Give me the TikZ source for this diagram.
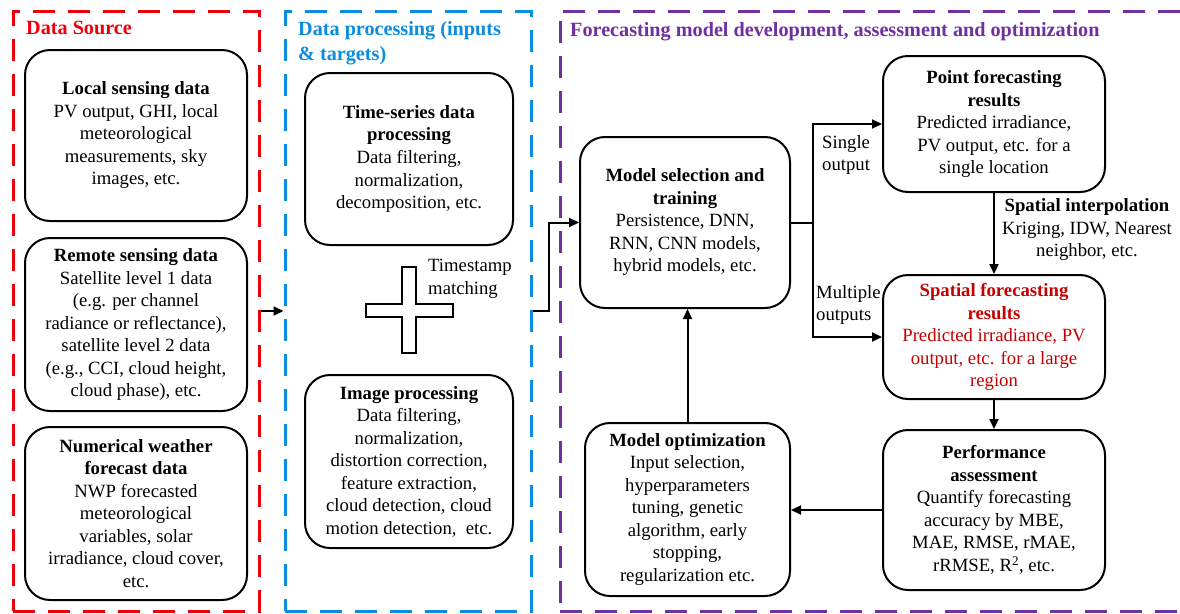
\documentclass[tikz,border=0pt]{standalone}
\usepackage{fontspec}
\setmainfont{Liberation Serif}
\usetikzlibrary{arrows.meta,calc}
\definecolor{srcred}{RGB}{236,0,10}
\definecolor{procblue}{RGB}{10,140,225}
\definecolor{fmpurple}{RGB}{112,48,160}
\definecolor{darkred}{RGB}{196,0,0}
\tikzset{
  box/.style={draw, line width=2pt, rounded corners=25pt, align=center, inner sep=0pt,
    font=\fontsize{18.7}{22.5}\selectfont},
  frame/.style={line width=3pt, dash pattern=on 22pt off 13pt, inner sep=0pt},
  ttl/.style={font=\fontsize{20.2}{25}\selectfont\bfseries, inner sep=0pt, align=left},
  lbl/.style={font=\fontsize{18.7}{22.5}\selectfont, inner sep=0pt},
  conn/.style={line width=2pt, -{Triangle[length=10pt,width=9pt]}},
  plainconn/.style={line width=2pt}
}
\begin{document}
\begin{tikzpicture}[x=1pt,y=-1pt]
\clip (0,0) rectangle (1180,613);
\fill[white] (0,0) rectangle (1180,613);
% frames
\node[frame, draw=srcred, minimum width=246pt, minimum height=600pt] (src) at (136,311) {};
\node[frame, draw=procblue, minimum width=246pt, minimum height=600pt] (proc) at (408,311) {};
\node[frame, draw=fmpurple, minimum width=640pt, minimum height=600pt] (fm) at (880,311) {};
% titles
\node[ttl, text=srcred, anchor=base west] (tsrc) at (26,34) {Data Source};
\node[ttl, text=procblue, anchor=base west] (tproc) at (298,60) {Data processing (inputs\\\& targets)};
\node[ttl, text=fmpurple, anchor=base west] (tfm) at (570,36) {Forecasting model development, assessment and optimization};
% data source
\node[box, minimum width=222pt, minimum height=171pt] (local) at (136,135.5)
  {\textbf{Local sensing data}\\PV output, GHI, local\\meteorological\\measurements, sky\\images, etc.};
\node[box, minimum width=222pt, minimum height=173pt] (remote) at (136,324.5)
  {\textbf{Remote sensing data}\\Satellite level 1 data\\(e.g. per channel\\radiance or reflectance),\\satellite level 2 data\\(e.g., CCI, cloud height,\\cloud phase), etc.};
\node[box, minimum width=222pt, minimum height=173pt] (nwp) at (136,513.5)
  {\textbf{Numerical weather}\\\textbf{forecast data}\\NWP forecasted\\meteorological\\variables, solar\\irradiance, cloud cover,\\etc.};
% processing
\node[box, minimum width=208pt, minimum height=172pt] (ts) at (409,159)
  {\textbf{Time-series data}\\\textbf{processing}\\Data filtering,\\normalization,\\decomposition, etc.};
\node[box, minimum width=208pt, minimum height=173pt] (img) at (409,461.5)
  {\textbf{Image processing}\\Data filtering,\\normalization,\\distortion correction,\\feature extraction,\\cloud detection, cloud\\motion detection,\ \ etc.};
% cross
\draw[line width=1.8pt, fill=white] (402,267) -- (416,267) -- (416,304) -- (453,304) -- (453,317) -- (416,317) -- (416,353) -- (402,353) -- (402,317) -- (366,317) -- (366,304) -- (402,304) -- cycle;
\node[lbl, anchor=west, align=left] (tsm) at (428,279) {Timestamp\\matching};
% model
\node[box, minimum width=210pt, minimum height=171pt] (msel) at (685,222.5)
  {\textbf{Model selection and}\\\textbf{training}\\Persistence, DNN,\\RNN, CNN models,\\hybrid models, etc.};
\node[box, minimum width=222pt, minimum height=136pt] (point) at (994,124)
  {\textbf{Point forecasting}\\\textbf{results}\\Predicted irradiance,\\PV output, etc. for a\\single location};
\node[box, minimum width=222pt, minimum height=124pt, text=darkred] (spatial) at (994,337)
  {\textbf{Spatial forecasting}\\\textbf{results}\\Predicted irradiance, PV\\output, etc. for a large\\region};
\node[box, minimum width=222pt, minimum height=160pt] (perf) at (994,510)
  {\textbf{Performance}\\\textbf{assessment}\\Quantify forecasting\\accuracy by MBE,\\MAE, RMSE, rMAE,\\rRMSE, R\textsuperscript{2}, etc.};
\node[box, minimum width=205pt, minimum height=173pt] (opt) at (687.5,509.5)
  {\textbf{Model optimization}\\Input selection,\\hyperparameters\\tuning, genetic\\algorithm, early\\stopping,\\regularization etc.};
% labels
\node[lbl, anchor=west, align=left] (lsingle) at (822,155) {Single\\output};
\node[lbl, anchor=west, align=left] (lmulti) at (816,305) {Multiple\\outputs};
\node[lbl, align=center] (linterp) at (1087,230) {\textbf{Spatial interpolation}\\Kriging, IDW, Nearest\\neighbor, etc.};
% connectors
\draw[conn] (src.east) -- (proc.west);
\draw[conn] (proc.east) -- ++(16,0) |- (msel.west);
\draw[plainconn] (msel.east) -- ++(22,0) coordinate (br);
\draw[conn] (br) |- (point.west);
\draw[conn] (br) |- (spatial.west);
\draw[conn] (point.south) -- (spatial.north);
\draw[conn] (spatial.south) -- (perf.north);
\draw[conn] (perf.west) -- (perf.west -| opt.east);
\draw[conn] (opt.north) -- (opt.north |- msel.south);
\end{tikzpicture}
\end{document}
